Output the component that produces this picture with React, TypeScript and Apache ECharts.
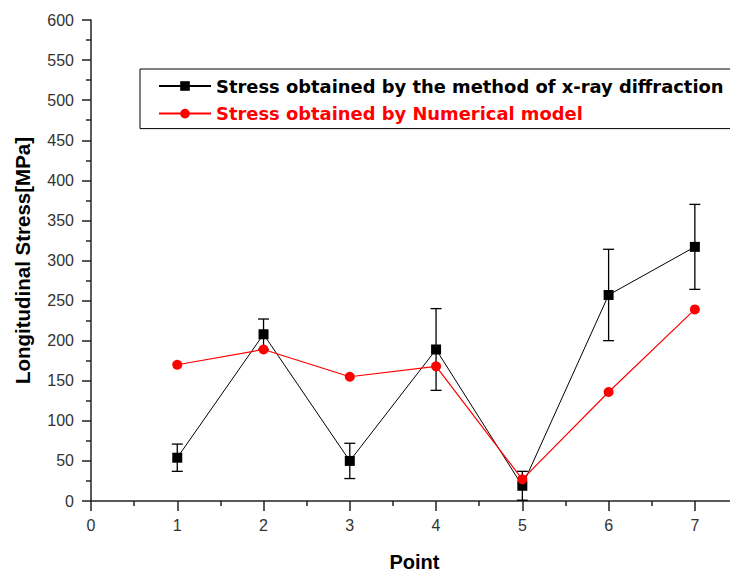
import React, { useEffect, useRef } from "react";
import * as echarts from "echarts";

const points = [1, 2, 3, 4, 5, 6, 7];
const xrayStress = [54, 208, 50, 189, 19, 257, 317];
const xrayError = [17, 19, 22, 51, 18, 57, 53];
const numericalStress = [170, 189, 155, 168, 27, 136, 239];

const xrayName = "Stress obtained by the method of x-ray diffraction";
const numName = "Stress obtained by Numerical model";

const tickFont = "'Liberation Sans Narrow', 'Arial Narrow', 'Liberation Sans', Arial, sans-serif";

export default function App() {
  const ref = useRef<HTMLDivElement>(null);
  useEffect(() => {
    if (!ref.current) return;
    const chart = echarts.init(ref.current, null, { renderer: "svg" });
    const xrayData = points.map((p, i) => [p, xrayStress[i]]);
    const numData = points.map((p, i) => [p, numericalStress[i]]);
    const errData = points.map((p, i) => [p, xrayStress[i] - xrayError[i], xrayStress[i] + xrayError[i]]);
    chart.setOption({
      animation: false,
      backgroundColor: "#ffffff",
      grid: { left: 91, top: 20, width: 647, height: 481, containLabel: false, outerBoundsMode: "none" },
      legend: {
        orient: "vertical",
        left: 140,
        top: 69,
        padding: [8, 24, 6, 18],
        itemGap: 9.6,
        itemWidth: 52,
        itemHeight: 12,
        borderColor: "#000",
        borderWidth: 1,
        textStyle: { fontFamily: "'DejaVu Sans', Verdana, sans-serif", fontWeight: "bold", fontSize: 17.9 },
        data: [
          { name: xrayName, textStyle: { color: "#000" } },
          { name: numName, textStyle: { color: "#ff0000" } },
        ],
      },
      xAxis: {
        type: "value",
        min: 0,
        max: 7.5,
        interval: 1,
        name: "Point",
        nameLocation: "middle",
        nameGap: 51,
        nameTextStyle: { fontFamily: "'Liberation Sans', Arial, sans-serif", fontWeight: "bold", fontSize: 20, color: "#000" },
        axisLine: { show: true, lineStyle: { color: "#222", width: 1.5 } },
        axisTick: { show: true, inside: false, length: 10, lineStyle: { color: "#222", width: 1.5 } },
        minorTick: { show: true, splitNumber: 2, length: 5, lineStyle: { color: "#222", width: 1.5 } },
        axisLabel: { showMaxLabel: false, margin: 16, fontFamily: tickFont, fontSize: 16, color: "#333" },
        splitLine: { show: false },
      },
      yAxis: {
        type: "value",
        min: 0,
        max: 600,
        interval: 50,
        name: "Longitudinal Stress[MPa]",
        nameLocation: "middle",
        nameGap: 58,
        nameTextStyle: { fontFamily: "'Liberation Sans', Arial, sans-serif", fontWeight: "bold", fontSize: 20.5, color: "#000" },
        axisLine: { show: true, lineStyle: { color: "#222", width: 1.5 } },
        axisTick: { show: true, inside: false, length: 9, lineStyle: { color: "#222", width: 1.5 } },
        minorTick: { show: true, splitNumber: 2, length: 5, lineStyle: { color: "#222", width: 1.5 } },
        axisLabel: { margin: 17, fontFamily: tickFont, fontSize: 16, color: "#333" },
        splitLine: { show: false },
      },
      series: [
        {
          name: xrayName,
          type: "line",
          data: xrayData,
          symbol: "rect",
          symbolSize: 10,
          itemStyle: { color: "#000" },
          lineStyle: { color: "#000", width: 1 },
          z: 2,
        },
        {
          name: "errorbars",
          type: "custom",
          data: errData,
          z: 3,
          renderItem: (params: any, api: any) => {
            const x = api.value(0);
            const lo = api.coord([x, api.value(1)]);
            const hi = api.coord([x, api.value(2)]);
            const half = 5.5;
            const style = { stroke: "#000", lineWidth: 1.3 };
            return {
              type: "group",
              children: [
                { type: "line", shape: { x1: hi[0], y1: hi[1], x2: lo[0], y2: lo[1] }, style },
                { type: "line", shape: { x1: hi[0] - half, y1: hi[1], x2: hi[0] + half, y2: hi[1] }, style },
                { type: "line", shape: { x1: lo[0] - half, y1: lo[1], x2: lo[0] + half, y2: lo[1] }, style },
              ],
            };
          },
        },
        {
          name: numName,
          type: "line",
          data: numData,
          symbol: "circle",
          symbolSize: 10,
          itemStyle: { color: "#ff0000" },
          lineStyle: { color: "#ff0000", width: 1.2 },
          z: 4,
        },
      ],
    });
    return () => chart.dispose();
  }, []);
  return <div ref={ref} style={{ position: "fixed", left: 0, top: 0, width: 730, height: 574 }} />;
}
